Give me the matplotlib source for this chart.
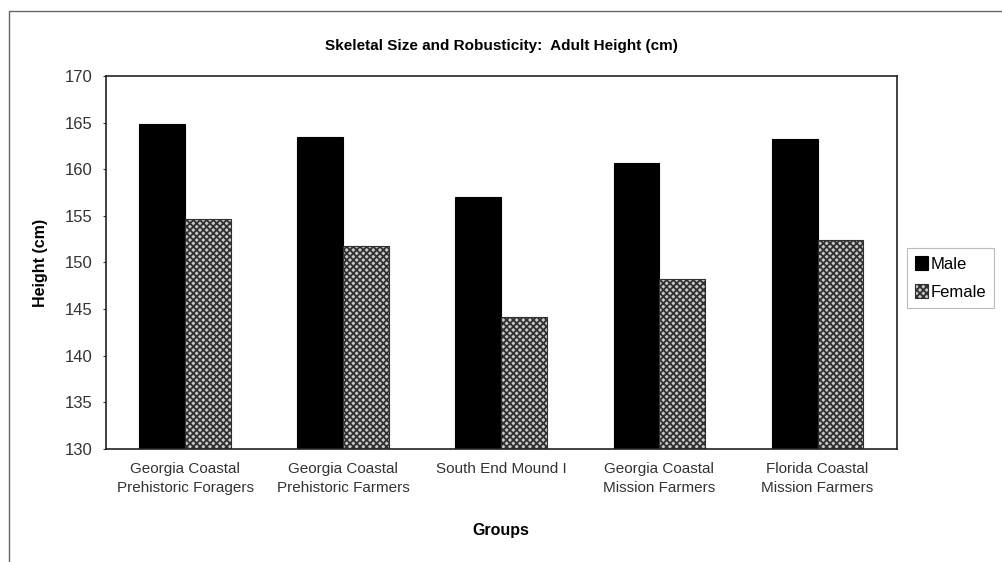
import matplotlib
matplotlib.use('Agg')
import matplotlib.pyplot as plt
import numpy as np
from matplotlib.patches import Rectangle

plt.rcParams['font.family'] = ['Liberation Sans', 'DejaVu Sans']
plt.rcParams['hatch.linewidth'] = 1.3

groups = ['Georgia Coastal\nPrehistoric Foragers', 'Georgia Coastal\nPrehistoric Farmers',
          'South End Mound I', 'Georgia Coastal\nMission Farmers',
          'Florida Coastal\nMission Farmers']
male = [164.8, 163.4, 157.0, 160.7, 163.2]
female = [154.7, 151.8, 144.1, 148.2, 152.4]
yticks = [130, 135, 140, 145, 150, 155, 160, 165, 170]

fig = plt.figure(figsize=(10.02, 5.62), dpi=100)

# outer chart frame
fig.patches.append(Rectangle((0.009, -0.01), 1.0, 0.99, transform=fig.transFigure,
                             fill=False, edgecolor='#666666', linewidth=1.0))

ax = fig.add_axes([0.1058, 0.201, 0.789, 0.664])
x = np.arange(len(groups))
w = 0.29
ax.bar(x - w/2, male, w, color='black', edgecolor='black',
       linewidth=0.8, label='Male')
ax.bar(x + w/2, female, w, color='#c8c8c8', edgecolor='#303030', hatch='xxxxx',
       linewidth=0.8, label='Female')

ax.set_ylim(130, 170)
ax.set_xlim(-0.5, len(groups) - 0.5)
ax.set_yticks(yticks)
ax.set_xticks(x)
ax.set_xticklabels(groups, fontsize=11, color='#333333', linespacing=1.5)
ax.tick_params(axis='y', labelsize=12, colors='#333333', length=2, pad=8)
ax.tick_params(axis='x', length=0, pad=9)
for s in ax.spines.values():
    s.set_color('#222222')
    s.set_linewidth(1.2)

ax.set_ylabel('Height (cm)', fontsize=11.5, fontweight='bold', labelpad=12)
ax.set_xlabel('Groups', fontsize=11.5, fontweight='bold', labelpad=20)
fig.text(0.5, 0.918, 'Skeletal Size and Robusticity:  Adult Height (cm)',
         ha='center', va='center', fontsize=11, fontweight='bold')

leg = ax.legend(loc='center left', bbox_to_anchor=(0.905, 0.505), bbox_transform=fig.transFigure,
                fontsize=12, frameon=True, fancybox=False, handlelength=0.8,
                handleheight=0.9, handletextpad=0.1, borderpad=0.5, labelspacing=0.75,
                borderaxespad=0)
leg.get_frame().set_edgecolor('#aaaaaa')
leg.get_frame().set_linewidth(0.8)

plt.savefig('out.png', dpi=100)
